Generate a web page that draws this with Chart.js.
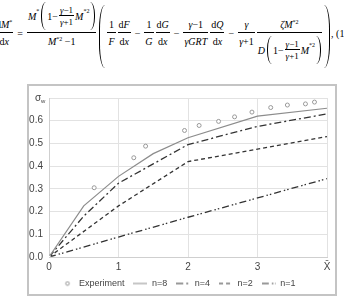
<!DOCTYPE html>
<html>
<head>
<meta charset="utf-8">
<script src="https://cdn.jsdelivr.net/npm/chart.js@4.4.0/dist/chart.umd.min.js"></script>
<style>
body{margin:0;background:#fff;width:344px;height:297px;overflow:hidden;position:relative}
#eq{position:absolute;left:-6px;top:-2px;height:70px;display:flex;align-items:center;white-space:nowrap;
  font:10px "Liberation Serif","Times New Roman",serif;color:#000}
.f{display:inline-flex;flex-direction:column;align-items:stretch;margin:0 1px}
.f>span{display:block;text-align:center;line-height:11px;height:15px;padding:0 1px;box-sizing:border-box}
.f>span:first-child{border-bottom:0.8px solid #000;padding-top:1px}
.f>span:last-child{padding-top:3px}
.f.s>span{height:11px;padding-top:0;font-size:9px;line-height:10px}
.f.s>span:last-child{padding-top:1px}
.f.big>span{height:31px}
.f.big>span:first-child{padding-top:0}
.f.tall>span{height:36px}
.f.tall>span:first-child{padding-top:22px}
.row{display:inline-flex;align-items:center;vertical-align:top}
.op{margin:0 3px}
.bpl,.bpr{display:inline-block;width:5px;height:63px;border:0 solid #000;position:relative;top:3px}
.bpl{border-left-width:1px;border-radius:7px 0 0 7px/28px 0 0 28px;margin:0 1px 0 2px}
.bpr{border-right-width:1px;border-radius:0 7px 7px 0/0 28px 28px 0;margin:0 1px 0 1px}
.mpl,.mpr{display:inline-block;width:4px;height:28px;border:0 solid #000}
.mpl{border-left-width:1px;border-radius:5px 0 0 5px/13px 0 0 13px;margin:0 1px 0 2px}
.mpr{border-right-width:1px;border-radius:0 5px 5px 0/0 13px 13px 0;margin-left:1px}
sup{font-size:6px;line-height:0;vertical-align:4px}
.row sup{align-self:flex-start;margin-top:9px}
#box{position:absolute;left:27px;top:84px;width:310px;height:212px;box-sizing:border-box;border:2px solid #c4c4c4}
#wrap{position:absolute;left:0;top:0;width:306px;height:212px}
</style>
</head>
<body>
<div id="eq">
  <span class="f"><span>d<i>M</i><sup>*</sup></span><span>d<i>x</i></span></span>
  <span class="op">=</span>
  <span class="f big"><span><span class="row"><i>M</i><sup>*</sup><span class="mpl"></span>1&minus;<span class="f s"><span><i>γ</i>&minus;1</span><span><i>γ</i>+1</span></span><i>M</i><sup>*2</sup><span class="mpr"></span></span></span><span><i>M</i><sup>*2</sup> &minus;1</span></span>
  <span class="bpl"></span>
  <span class="f"><span>1</span><span><i>F</i></span></span>
  <span class="f"><span>d<i>F</i></span><span>d<i>x</i></span></span>
  <span class="op">&minus;</span>
  <span class="f"><span>1</span><span><i>G</i></span></span>
  <span class="f"><span>d<i>G</i></span><span>d<i>x</i></span></span>
  <span class="op">&minus;</span>
  <span class="f"><span><i>γ</i>&minus;1</span><span><i>γGRT</i></span></span>
  <span class="f"><span>d<i>Q</i></span><span>d<i>x</i></span></span>
  <span class="op">&minus;</span>
  <span class="f"><span><i>γ</i></span><span><i>γ</i>+1</span></span>
  <span class="f tall"><span><i>ζM</i><sup>*2</sup></span><span><span class="row"><i>D</i><span class="mpl"></span>1&minus;<span class="f s"><span><i>γ</i>&minus;1</span><span><i>γ</i>+1</span></span><i>M</i><sup>*2</sup><span class="mpr"></span></span></span></span>
  <span class="bpr"></span>
  <span>, (14)</span>
</div>
<div id="box"><div id="wrap"><canvas id="grafico"></canvas></div></div>
<script>
// experiment points
var expX = [0, 0.65, 1.22, 1.39, 1.95, 2.16, 2.44, 2.67, 2.92, 3.19, 3.43, 3.69, 3.82];
var expY = [0, 0.305, 0.437, 0.488, 0.557, 0.579, 0.597, 0.617, 0.638, 0.658, 0.669, 0.674, 0.682];
// calculated curves
var xFino = [0, 0.5, 1, 1.5, 2, 3, 4];
var n8 = [0, 0.225, 0.355, 0.455, 0.525, 0.62, 0.655];
var n4 = [0, 0.18, 0.325, 0.41, 0.495, 0.575, 0.63];
var xGrosso = [0, 1, 2, 3, 4];
var n2 = [0, 0.225, 0.42, 0.475, 0.53];
var n1 = [0, 0.088, 0.175, 0.26, 0.345];
var xTicks = ['0', '1', '2', '3', 'X\u0304'];
var yTicks = ['0.0', '0.1', '0.2', '0.3', '0.4', '0.5', '0.6', ''];

function pares(xs, ys){
    return xs.map(function(x, i){ return {x: x, y: ys[i]} })
}

function simbolo(cor, dash, ponto){
    var c = document.createElement('canvas')
    c.width = 14; c.height = 6
    var g = c.getContext('2d')
    g.strokeStyle = cor; g.lineWidth = 1
    if (ponto) {
        g.beginPath(); g.arc(7, 3, 1.8, 0, Math.PI * 2); g.stroke()
    } else {
        g.setLineDash(dash)
        g.beginPath(); g.moveTo(0, 3); g.lineTo(14, 3); g.stroke()
    }
    return c
}

var series = [
    {label: 'Experiment', data: pares(expX, expY), showLine: false, pointRadius: 2,
     borderColor: '#999', backgroundColor: '#fff', pointBorderWidth: 1, dash: [], ponto: true},
    {label: 'n=8', data: pares(xFino, n8), borderColor: '#8c8c8c', borderWidth: 1.2, dash: []},
    {label: 'n=4', data: pares(xFino, n4), borderColor: '#333', borderWidth: 1.3, dash: [7, 3, 2, 3]},
    {label: 'n=2', data: pares(xGrosso, n2), borderColor: '#333', borderWidth: 1.3, dash: [4, 3]},
    {label: 'n=1', data: pares(xGrosso, n1), borderColor: '#333', borderWidth: 1.3, dash: [7, 3, 1.5, 2, 1.5, 3]}
];

var datasets = series.map(function(s){
    return {
        label: s.label, data: s.data, showLine: s.showLine !== false,
        borderColor: s.borderColor, backgroundColor: s.backgroundColor || s.borderColor,
        borderWidth: s.borderWidth || 1, borderDash: s.dash,
        pointRadius: s.pointRadius || 0, pointStyle: 'circle',
        pointBorderWidth: s.pointBorderWidth || 0, tension: 0
    }
});

var sigmaW = {
    id: 'sigmaW',
    afterDraw: function(chart){
        var ctx = chart.ctx, y = chart.scales.y
        var py = y.getPixelForValue(0.7)
        var px = y.right - 14
        ctx.save()
        ctx.fillStyle = '#444'
        ctx.textBaseline = 'middle'
        ctx.font = '10px "Liberation Sans", Arial, sans-serif'
        ctx.fillText('σ', px, py)
        ctx.font = '6px "Liberation Sans", Arial, sans-serif'
        ctx.fillText('w', px + 6, py + 3)
        ctx.restore()
    }
};

let grafico = document.getElementById('grafico').getContext('2d');
let chart = new Chart(grafico, {
    type: 'line',
    data: {datasets: datasets},
    plugins: [sigmaW],
    options: {
        responsive: true,
        maintainAspectRatio: false,
        animation: false,
        layout: {padding: {top: 7, right: 8, left: 0, bottom: 0}},
        scales: {
            x: {
                type: 'linear', min: 0, max: 4,
                afterFit: function(s){ s.height = 13 },
                grid: {color: '#e2e2e2', drawTicks: false},
                border: {color: '#cfcfcf'},
                ticks: {stepSize: 1, padding: 4, color: '#444',
                    font: {size: 10, family: '"Liberation Sans", Arial'},
                    callback: function(v){ return xTicks[Math.round(v)] }}
            },
            y: {
                min: 0, max: 0.7,
                afterFit: function(s){ s.width = 20 },
                grid: {color: '#e2e2e2', drawTicks: false},
                border: {color: '#cfcfcf'},
                ticks: {stepSize: 0.1, padding: 6, color: '#444',
                    font: {size: 10, family: '"Liberation Sans", Arial'},
                    callback: function(v){ return yTicks[Math.round(v * 10)] }}
            }
        },
        plugins: {
            tooltip: {enabled: false},
            legend: {
                position: 'bottom',
                labels: {
                    usePointStyle: true, pointStyleWidth: 14, boxHeight: 6,
                    padding: 9, color: '#444',
                    font: {size: 9, family: '"Liberation Sans", Arial'},
                    generateLabels: function(){
                        return series.map(function(s, i){
                            return {text: s.label, datasetIndex: i, fontColor: '#444',
                                pointStyle: simbolo(s.borderColor, s.dash, s.ponto), lineWidth: 0}
                        })
                    }
                }
            }
        }
    }
});
</script>
</body>
</html>
